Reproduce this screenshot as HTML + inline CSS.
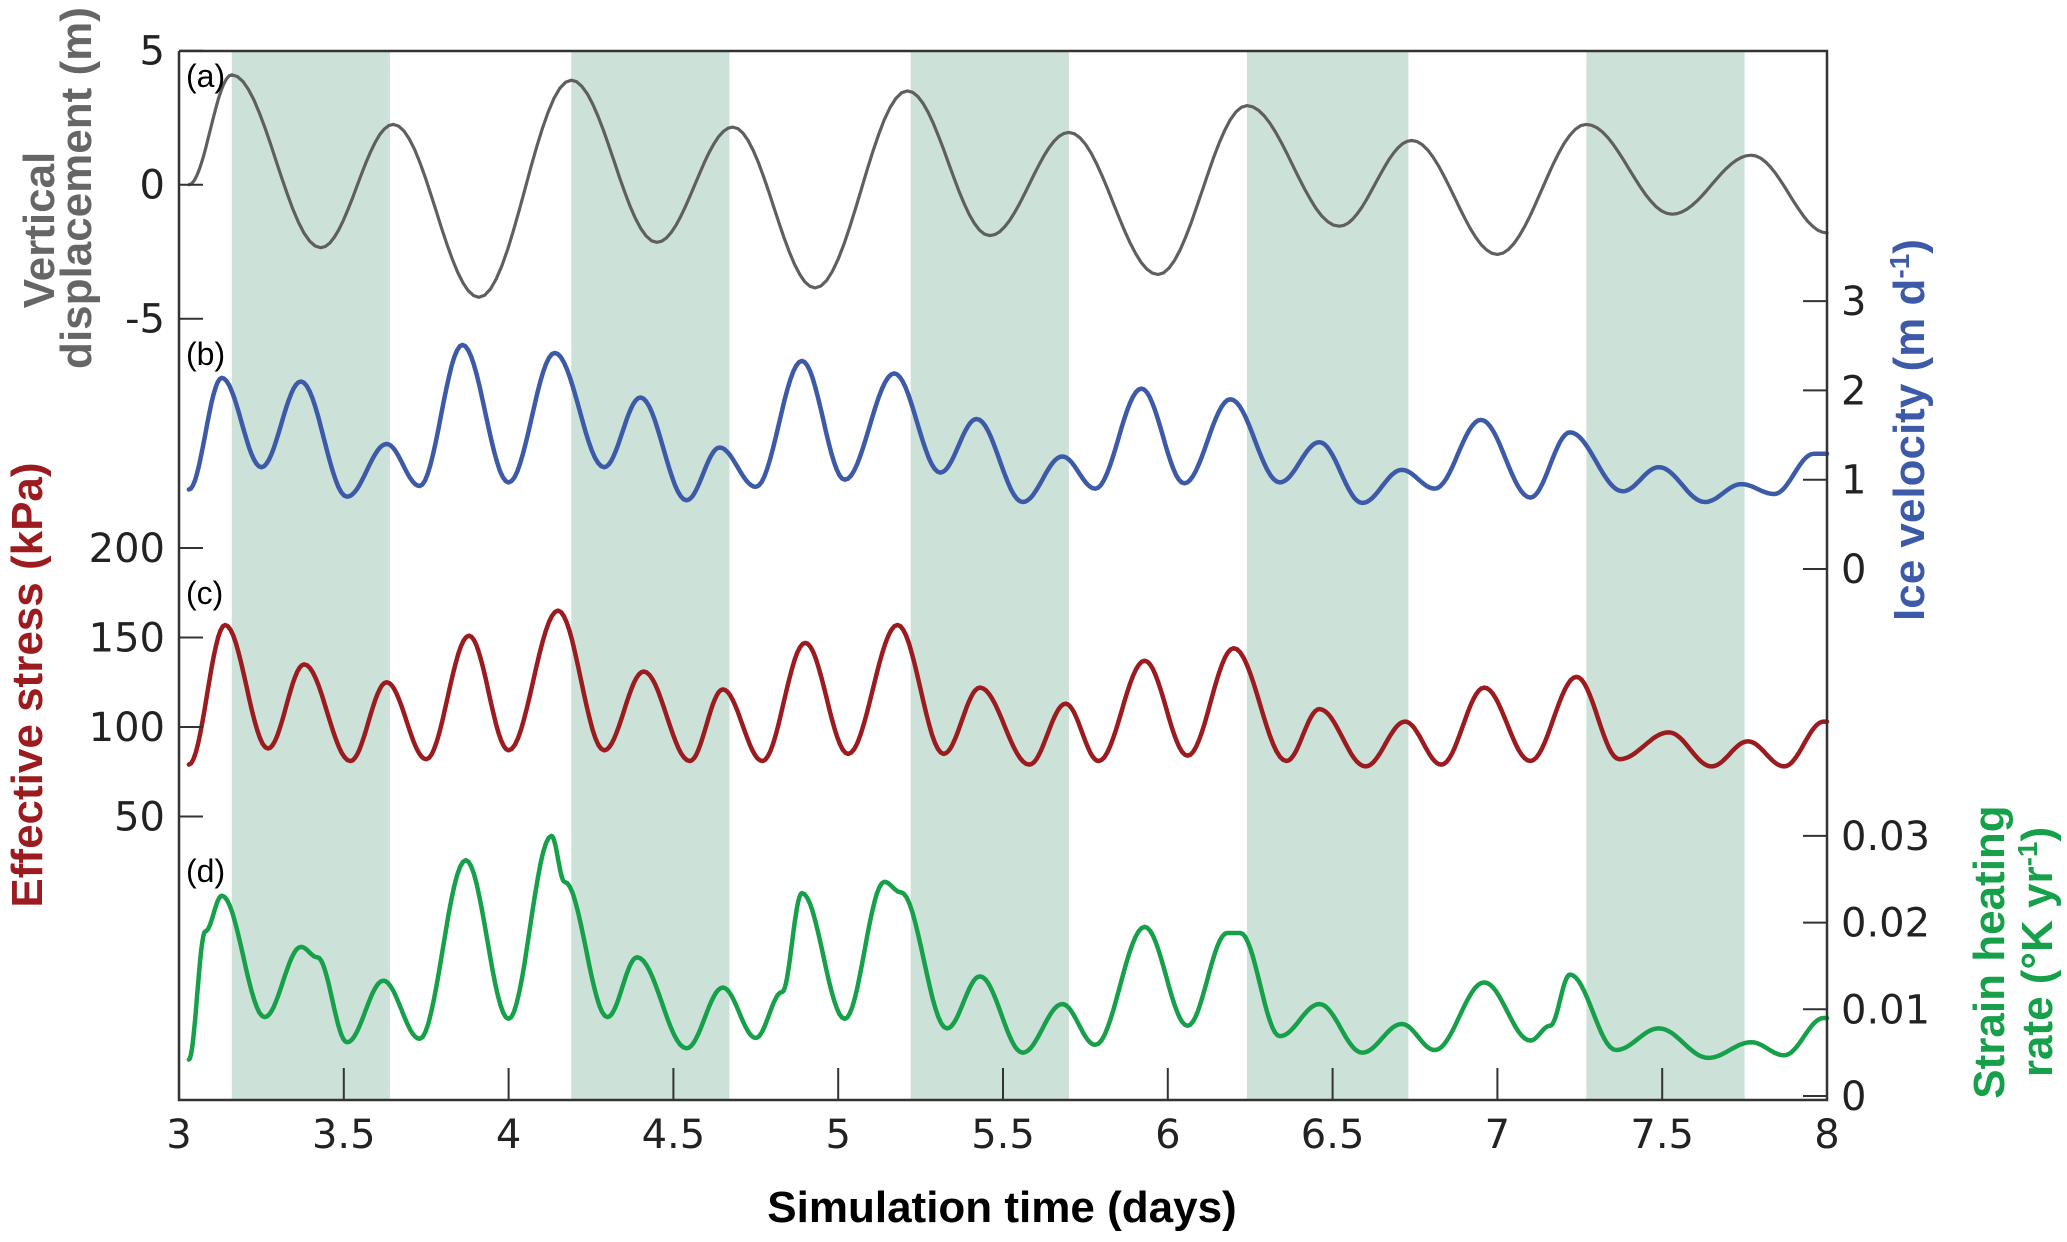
<!DOCTYPE html>
<html><head><meta charset="utf-8">
<style>
html,body{margin:0;padding:0;background:#fff;}
svg{display:block;}
text{font-family:"DejaVu Sans","Liberation Sans",sans-serif;}
.tl{font-size:40px;fill:#222;}
.tt{font-family:"Liberation Sans",sans-serif;font-weight:bold;font-size:44px;}
.pl{font-family:"Liberation Sans",sans-serif;font-size:32px;fill:#000;}
</style></head>
<body>
<svg id="chart" width="2067" height="1242" viewBox="0 0 2067 1242" xmlns="http://www.w3.org/2000/svg">
<g id="bands"></g>
<g id="series"></g>
<g id="axes"></g>
<text class="pl" x="186" y="87">(a)</text>
<text class="pl" x="186" y="365">(b)</text>
<text class="pl" x="186" y="604">(c)</text>
<text class="pl" x="186" y="882">(d)</text>
<text class="tt" fill="#666" transform="translate(54,230) rotate(-90)" text-anchor="middle">Vertical</text>
<text class="tt" fill="#666" transform="translate(91,188) rotate(-90)" text-anchor="middle">displacement (m)</text>
<text class="tt" fill="#9b1b1f" transform="translate(42,685) rotate(-90)" text-anchor="middle">Effective stress (kPa)</text>
<text class="tt" fill="#3d5aa8" transform="translate(1924,430) rotate(-90)" text-anchor="middle">Ice velocity (m d<tspan dy="-15" font-size="28">-1</tspan><tspan dy="15">)</tspan></text>
<text class="tt" fill="#17a04a" transform="translate(2004,952) rotate(-90)" text-anchor="middle">Strain heating</text>
<text class="tt" fill="#17a04a" transform="translate(2052,952) rotate(-90)" text-anchor="middle">rate (°K yr<tspan dy="-15" font-size="28">-1</tspan><tspan dy="15">)</tspan></text>
<text class="tt" fill="#000" x="1002" y="1222" text-anchor="middle">Simulation time (days)</text>
</svg>
<script>
const bandStarts=[3.16,4.19,5.22,6.24,7.27];
const bandEnds=[3.64,4.67,5.70,6.73,7.75];
const xTicks=[3,3.5,4,4.5,5,5.5,6,6.5,7,7.5,8];
const xTickLabels=["3","3.5","4","4.5","5","5.5","6","6.5","7","7.5","8"];
const dispTicks=[5,0,-5];
const velTicks=[3,2,1,0];
const stressTicks=[200,150,100,50];
const strainTicks=[0.03,0.02,0.01,0];
const strainTickLabels=["0.03","0.02","0.01","0"];
const dispT=[3.03,3.16,3.43,3.65,3.91,4.19,4.45,4.68,4.93,5.21,5.46,5.70,5.97,6.24,6.52,6.74,7.0,7.27,7.53,7.77,8.0];
const dispV=[0,4.1,-2.35,2.25,-4.2,3.9,-2.15,2.15,-3.85,3.5,-1.9,1.95,-3.35,2.95,-1.55,1.65,-2.6,2.25,-1.1,1.1,-1.8];
const velT=[3.03,3.13,3.25,3.37,3.51,3.63,3.73,3.86,4.0,4.14,4.29,4.40,4.54,4.64,4.75,4.89,5.02,5.17,5.31,5.42,5.56,5.68,5.78,5.92,6.05,6.19,6.34,6.46,6.59,6.71,6.81,6.95,7.1,7.22,7.38,7.49,7.63,7.74,7.84,7.96,8.0];
const velV=[0.89,2.14,1.14,2.10,0.81,1.40,0.93,2.51,0.97,2.42,1.14,1.92,0.77,1.36,0.92,2.33,1.0,2.19,1.08,1.68,0.75,1.26,0.90,2.02,0.96,1.90,0.97,1.42,0.74,1.11,0.90,1.67,0.80,1.53,0.87,1.14,0.75,0.95,0.84,1.29,1.29];
const stressT=[3.03,3.14,3.27,3.38,3.52,3.63,3.75,3.88,4.0,4.15,4.29,4.41,4.55,4.65,4.77,4.9,5.03,5.18,5.32,5.43,5.58,5.69,5.79,5.93,6.06,6.2,6.36,6.46,6.6,6.72,6.83,6.96,7.1,7.24,7.37,7.52,7.65,7.76,7.87,7.99,8.0];
const stressV=[79,157,88,135,81,125,82,151,87,165,87,131,81,121,81,147,85,157,85,122,79,113,81,137,84,144,81,110,78,103,79,122,81,128,82,97,78,92,78,103,103];
const strainT=[3.03,3.08,3.13,3.26,3.37,3.42,3.51,3.62,3.73,3.87,4.0,4.13,4.17,4.3,4.39,4.54,4.65,4.75,4.83,4.89,5.02,5.14,5.19,5.33,5.43,5.56,5.68,5.78,5.93,6.06,6.18,6.22,6.34,6.46,6.59,6.71,6.81,6.96,7.1,7.16,7.22,7.36,7.49,7.64,7.77,7.87,7.99,8.0];
const strainV=[0.0042,0.019,0.0231,0.0091,0.0172,0.0160,0.0062,0.0133,0.0066,0.0272,0.0089,0.0300,0.0247,0.0091,0.0160,0.0055,0.0125,0.0067,0.0120,0.0234,0.0089,0.0247,0.0235,0.0078,0.0138,0.0050,0.0106,0.0059,0.0195,0.0081,0.0188,0.0188,0.0069,0.0106,0.0050,0.0083,0.0053,0.0131,0.0064,0.0081,0.0140,0.0053,0.0078,0.0044,0.0062,0.0047,0.0090,0.0090];

const NS="http://www.w3.org/2000/svg";
const X0=179,X1=1827,YT=51,YB=1100;
function xS(t){return X0+(t-3)/5*(X1-X0);}
function yDisp(v){return 184.7-v*26.8;}
function yVel(v){return 569-v*89.3;}
function yStress(v){return 548-(v-200)*1.79;}
function yStrain(v){return 1096-v*8670;}
function mk(tag,attrs,parent){const e=document.createElementNS(NS,tag);for(const k in attrs)e.setAttribute(k,attrs[k]);parent.appendChild(e);return e;}
const bands=document.getElementById('bands');
for(let i=0;i<bandStarts.length;i++){
  const r=mk('rect',{x:xS(bandStarts[i]),y:YT,width:xS(bandEnds[i])-xS(bandStarts[i]),height:YB-YT,fill:'#cce2d9'},bands);
  
  
}
function curve(T,V,yf){
  let d='';
  for(let i=0;i<T.length-1;i++){
    const n=16;
    for(let k=(i==0?0:1);k<=n;k++){
      const s=k/n,t=T[i]+(T[i+1]-T[i])*s;
      const v=V[i]+(V[i+1]-V[i])*(1-Math.cos(Math.PI*s))/2;
      d+=(d?'L':'M')+xS(t).toFixed(1)+' '+yf(v).toFixed(1);
    }
  }
  return d;
}
const sg=document.getElementById('series');
const defs=[[dispT,dispV,yDisp,'#5f5f5f',3.2,'line-displacement'],[velT,velV,yVel,'#3d5aa8',4.5,'line-ice-velocity'],[stressT,stressV,yStress,'#9b1b1f',4.5,'line-effective-stress'],[strainT,strainV,yStrain,'#17a04a',4.5,'line-strain-heating']];
for(const [T,V,f,c,w,n] of defs){
  const p=mk('path',{d:curve(T,V,f),fill:'none',stroke:c,'stroke-width':w,'stroke-linejoin':'round','stroke-linecap':'round'},sg);
  
  
}
const ax=document.getElementById('axes');
const frame=mk('path',{d:`M${X0} ${YT}L${X0} ${YB}L${X1} ${YB}L${X1} ${YT}L${X0} ${YT}`,fill:'none',stroke:'#333','stroke-width':2.5},ax);


xTicks.forEach((t,i)=>{
  const l=mk('line',{x1:xS(t),x2:xS(t),y1:YB,y2:YB-32,stroke:'#333','stroke-width':2},ax);
  
  
  const tx=mk('text',{x:xS(t),y:YB+48,'text-anchor':'middle',class:'tl'},ax);
  tx.textContent=xTickLabels[i];
  
  
});
function yTicks(vals,labels,f,side){
  vals.forEach((v,i)=>{
    const y=f(v);
    const x=side<0?X0:X1;
    const l=mk('line',{x1:x,x2:x-side*24,y1:y,y2:y,stroke:'#333','stroke-width':2},ax);
    
    
    const tx=mk('text',{x:side<0?X0-14:X1+14,y:y+14,'text-anchor':side<0?'end':'start',class:'tl'},ax);
    tx.textContent=labels[i];
    
    
  });
}
yTicks(dispTicks,dispTicks.map(String),yDisp,-1);
yTicks(stressTicks,stressTicks.map(String),yStress,-1);
yTicks(velTicks,velTicks.map(String),yVel,1);
yTicks(strainTicks,strainTickLabels,yStrain,1);
</script>
</body></html>
